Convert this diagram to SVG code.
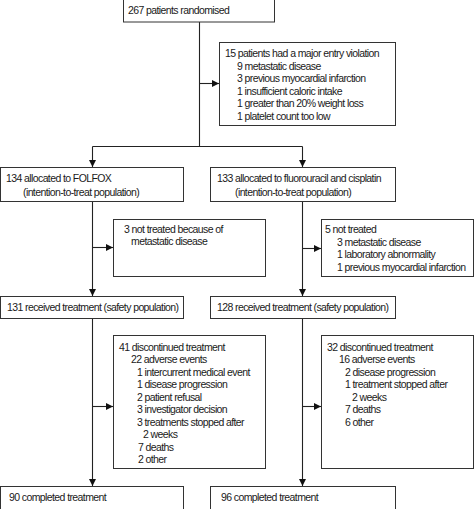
<svg xmlns="http://www.w3.org/2000/svg" width="474" height="509" viewBox="0 0 474 509">
<style>
.b{fill:#fff;stroke:#333;stroke-width:1}
text{font-family:"Liberation Sans",Arial,sans-serif;font-size:10.5px;letter-spacing:-0.6px;fill:#1a1a1a}
.c{stroke:#222;stroke-width:1.1;fill:none}
</style>
<defs>
<marker id="ah" markerUnits="userSpaceOnUse" markerWidth="7" markerHeight="7" refX="7" refY="3.5" orient="auto">
<path d="M0,0 L7,3.5 L0,7 z" fill="#111"/>
</marker>
</defs>
<rect width="474" height="509" fill="#fff"/>
<g id="connectors">
<path class="c" d="M199.5,22 V146.5 M92.5,146.5 H302.5"/>
<path class="c" d="M92.5,146.5 V167" marker-end="url(#ah)"/>
<path class="c" d="M302.5,146.5 V167" marker-end="url(#ah)"/>
<path class="c" d="M199.5,83.5 H219" marker-end="url(#ah)"/>
<path class="c" d="M92.5,201 V296" marker-end="url(#ah)"/>
<path class="c" d="M92.5,247.5 H113" marker-end="url(#ah)"/>
<path class="c" d="M302.5,201 V296" marker-end="url(#ah)"/>
<path class="c" d="M302.5,248.5 H321" marker-end="url(#ah)"/>
<path class="c" d="M92.5,318 V486" marker-end="url(#ah)"/>
<path class="c" d="M92.5,406.5 H113" marker-end="url(#ah)"/>
<path class="c" d="M302.5,318 V486" marker-end="url(#ah)"/>
<path class="c" d="M302.5,406.5 H321" marker-end="url(#ah)"/>
</g>
<g id="randomised">
<rect class="b" x="123.5" y="-2" width="151" height="24"/>
<text x="128" y="14">267 patients randomised</text>
</g>
<g id="violation">
<rect class="b" x="219.5" y="42.5" width="176" height="83"/>
<text x="225" y="57">15 patients had a major entry violation</text>
<text x="237" y="69.5">9 metastatic disease</text>
<text x="237" y="82">3 previous myocardial infarction</text>
<text x="237" y="94.5">1 insufficient caloric intake</text>
<text x="237" y="107">1 greater than 20% weight loss</text>
<text x="237" y="119.5">1 platelet count too low</text>
</g>
<g id="folfox">
<rect class="b" x="0.5" y="167.5" width="183" height="34"/>
<text x="6" y="181.5">134 allocated to FOLFOX</text>
<text x="23" y="195.5">(intention-to-treat population)</text>
</g>
<g id="fc">
<rect class="b" x="210.5" y="167.5" width="185" height="34"/>
<text x="217" y="181.5">133 allocated to fluorouracil and cisplatin</text>
<text x="235" y="195.5">(intention-to-treat population)</text>
</g>
<g id="nt-left">
<rect class="b" x="113.5" y="219.5" width="152" height="57"/>
<text x="124" y="232.5">3 not treated because of</text>
<text x="131" y="245">metastatic disease</text>
</g>
<g id="nt-right">
<rect class="b" x="321.5" y="219.5" width="152" height="57"/>
<text x="325" y="232.5">5 not treated</text>
<text x="337" y="245.5">3 metastatic disease</text>
<text x="337" y="258">1 laboratory abnormality</text>
<text x="337" y="270.5">1 previous myocardial infarction</text>
</g>
<g id="safety-left">
<rect class="b" x="0.5" y="296.5" width="183" height="22"/>
<text x="7" y="310.5">131 received treatment (safety population)</text>
</g>
<g id="safety-right">
<rect class="b" x="210.5" y="296.5" width="185" height="22"/>
<text x="217" y="310.5">128 received treatment (safety population)</text>
</g>
<g id="disc-left">
<rect class="b" x="113.5" y="335.5" width="152" height="133"/>
<text x="119" y="350.5">41 discontinued treatment</text>
<text x="131" y="363">22 adverse events</text>
<text x="137" y="375.5">1 intercurrent medical event</text>
<text x="137" y="388">1 disease progression</text>
<text x="137" y="400.5">2 patient refusal</text>
<text x="137" y="413">3 investigator decision</text>
<text x="137" y="425.5">3 treatments stopped after</text>
<text x="143" y="438">2 weeks</text>
<text x="138" y="450.5">7 deaths</text>
<text x="138" y="463">2 other</text>
</g>
<g id="disc-right">
<rect class="b" x="321.5" y="335.5" width="152" height="133"/>
<text x="327" y="350.5">32 discontinued treatment</text>
<text x="339" y="363">16 adverse events</text>
<text x="345" y="375.5">2 disease progression</text>
<text x="345" y="388">1 treatment stopped after</text>
<text x="352" y="400.5">2 weeks</text>
<text x="345" y="413">7 deaths</text>
<text x="345" y="425.5">6 other</text>
</g>
<g id="completed-left">
<rect class="b" x="0.5" y="486.5" width="183" height="30"/>
<text x="9" y="500.5">90 completed treatment</text>
</g>
<g id="completed-right">
<rect class="b" x="210.5" y="486.5" width="185" height="30"/>
<text x="221" y="500.5">96 completed treatment</text>
</g>
</svg>
